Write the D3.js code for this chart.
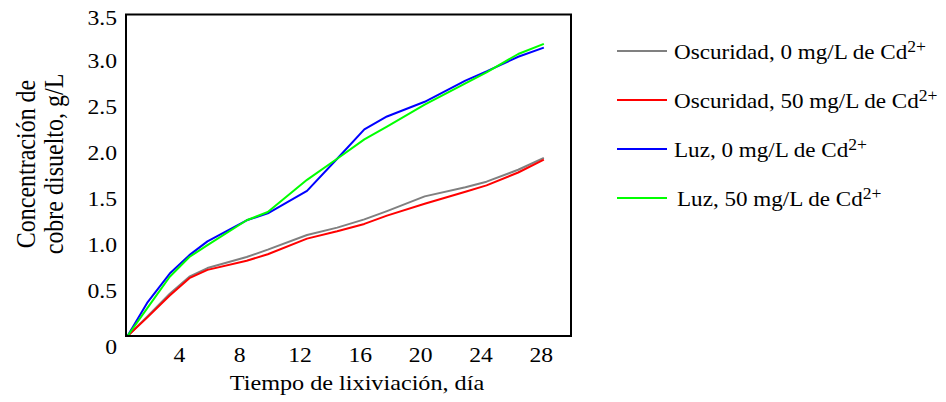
<!DOCTYPE html>
<html>
<head>
<meta charset="utf-8">
<script src="https://cdn.jsdelivr.net/npm/d3@7"></script>
<style>
  body { margin: 0; background: #fff; }
  text { font-family: "Liberation Serif", "Times New Roman", serif; fill: #000; }
</style>
</head>
<body>
<div id="chart"></div>
<script>
// sampling days
const days = [0.6, 1.9, 3.4, 4.7, 5.9, 8.5, 9.9, 12.5, 14.5, 16.3, 17.8, 20.3, 23.0, 24.4, 26.5, 28.2];

// g/L of dissolved copper
const oscuridad0  = [0, 0.21, 0.46, 0.645, 0.74, 0.86, 0.94, 1.10, 1.18, 1.27, 1.36, 1.52, 1.62, 1.68, 1.81, 1.94];
const oscuridad50 = [0, 0.20, 0.44, 0.63, 0.72, 0.82, 0.89, 1.06, 1.14, 1.22, 1.31, 1.44, 1.57, 1.64, 1.78, 1.92];
const luz0        = [0, 0.36, 0.68, 0.88, 1.03, 1.26, 1.335, 1.58, 1.93, 2.25, 2.39, 2.55, 2.78, 2.88, 3.04, 3.14];
const luz50       = [0, 0.30, 0.645, 0.86, 0.99, 1.26, 1.35, 1.70, 1.93, 2.14, 2.28, 2.52, 2.75, 2.87, 3.07, 3.18];

const seriesLabels = ["Oscuridad, 0 mg/L de Cd", "Oscuridad, 50 mg/L de Cd", "Luz, 0 mg/L de Cd", "Luz, 50 mg/L de Cd"];
const seriesColors = ["#808080", "#ff0000", "#0000ff", "#00ff00"];
const seriesValues = [oscuridad0, oscuridad50, luz0, luz50];

const xTicks = [4, 8, 12, 16, 20, 24, 28];
const yTicks = [0, 0.5, 1.0, 1.5, 2.0, 2.5, 3.0, 3.5];

function init() {
  const W = 946, H = 402;
  const SX = 1.1; // the original text looks a bit stretched sideways

  const svg = d3.select("#chart").append("svg")
    .attr("width", W)
    .attr("height", H);

  const x = d3.scaleLinear().domain([0.5, 30]).range([126, 571]);
  const y = d3.scaleLinear().domain([0, 3.5]).range([336, 14.5]);

  // x axis labels
  const xAxis = svg.append("g")
    .attr("transform", "translate(0,336)")
    .call(d3.axisBottom(x).tickValues(xTicks).tickSize(0).tickFormat(d3.format("d")));
  xAxis.select(".domain").remove();
  xAxis.selectAll("text")
    .attr("y", 0).attr("dy", 0)
    .attr("transform", "translate(0,26) scale(" + SX + ",1)")
    .style("font-size", "21.5px")
    .style("font-family", null);

  // y axis labels
  const yAxis = svg.append("g")
    .attr("transform", "translate(126,0)")
    .call(d3.axisLeft(y).tickValues(yTicks).tickSize(0)
      .tickFormat(d => d === 0 ? "0" : d3.format(".1f")(d)));
  yAxis.select(".domain").remove();
  yAxis.selectAll("text")
    .attr("x", 0).attr("dy", 0)
    .attr("y", d => d === 0 ? 17 : (d === 3.5 ? 10 : 7))
    .attr("transform", "translate(-9,0) scale(" + SX + ",1)")
    .style("font-size", "21.5px")
    .style("font-family", null);

  // lines
  const line = d3.line()
    .x((d, i) => x(days[i]))
    .y(d => y(d));

  svg.append("g").selectAll("path")
    .data(seriesValues)
    .enter().append("path")
    .attr("d", d => line(d))
    .attr("fill", "none")
    .attr("stroke", (d, i) => seriesColors[i])
    .attr("stroke-width", 2)
    .attr("stroke-linejoin", "round");

  // frame
  svg.append("rect")
    .attr("x", 126).attr("y", 14.5)
    .attr("width", 445).attr("height", 321.5)
    .attr("fill", "none")
    .attr("stroke", "#000")
    .attr("stroke-width", 2);

  // axis titles
  svg.append("text")
    .attr("transform", "translate(357,390) scale(" + SX + ",1)")
    .attr("text-anchor", "middle")
    .style("font-size", "22px")
    .text("Tiempo de lixiviación, día");

  const yTitle = ["Concentración de", "cobre disuelto, g/L"];
  svg.selectAll(".ytitle")
    .data(yTitle)
    .enter().append("text")
    .attr("class", "ytitle")
    .attr("transform", (d, i) => "translate(" + (35 + i * 28) + ",164) scale(" + SX + ",1) rotate(-90)")
    .attr("text-anchor", "middle")
    .style("font-size", "24px")
    .text(d => d);

  // legend
  const legend = svg.append("g").selectAll("g")
    .data(seriesLabels)
    .enter().append("g")
    .attr("transform", (d, i) => "translate(0," + (51 + i * 49) + ")");

  legend.append("line")
    .attr("x1", 617).attr("x2", 667)
    .attr("y1", 0).attr("y2", 0)
    .attr("stroke", (d, i) => seriesColors[i])
    .attr("stroke-width", 2);

  const lt = legend.append("text")
    .attr("transform", (d, i) => "translate(" + (i === 3 ? 677 : 674) + ",8) scale(" + SX + ",1)")
    .style("font-size", "21px");
  lt.append("tspan").text(d => d);
  lt.append("tspan")
    .attr("dy", -7)
    .style("font-size", "16px")
    .text("2+");
}

window.onload = init;
</script>
</body>
</html>
